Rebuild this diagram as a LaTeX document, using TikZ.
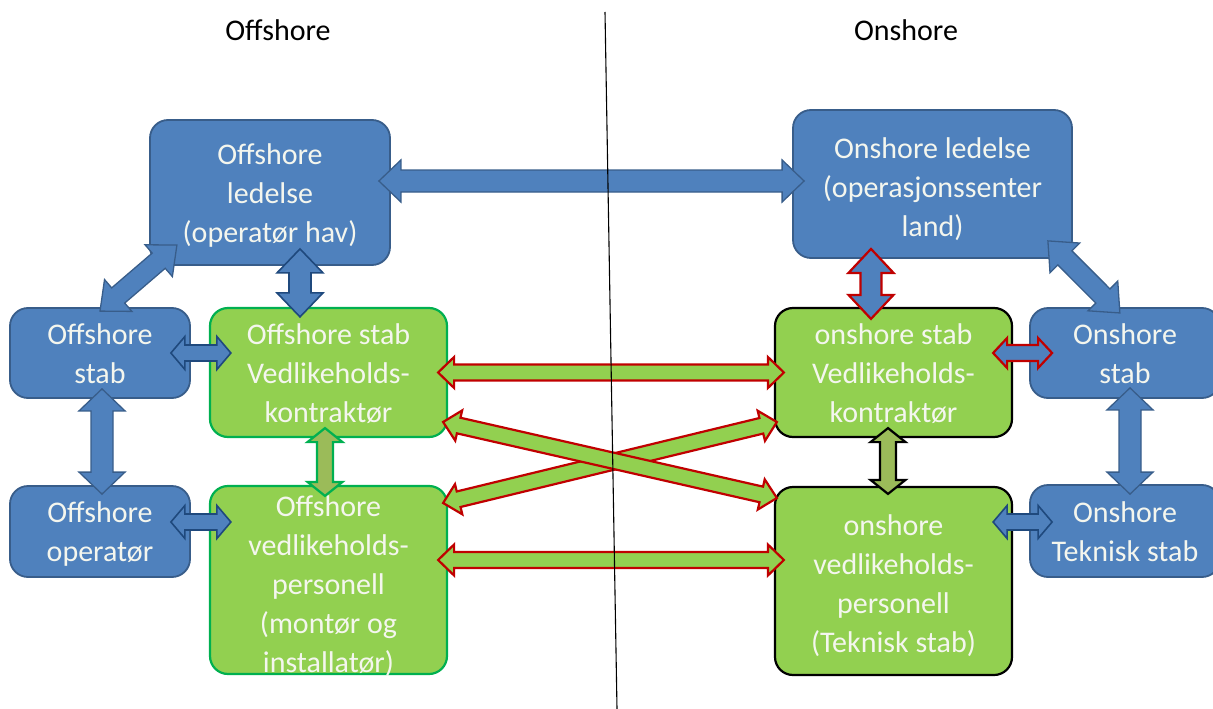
\documentclass[tikz,border=0pt]{standalone}
\usepackage{fontspec}
\setmainfont{Carlito}
\usetikzlibrary{calc}
\definecolor{bfill}{HTML}{4F81BD}
\definecolor{bline}{HTML}{385D8A}
\definecolor{bdark}{HTML}{1F497D}
\definecolor{gfill}{HTML}{92D050}
\definecolor{gline}{HTML}{00B050}
\definecolor{rline}{HTML}{C00000}
\definecolor{ofill}{HTML}{9BBB59}
\definecolor{btext}{HTML}{F4F6EE}
% box text, lowered by #1 pt inside its box
\newcommand{\bt}[2][3]{\raisebox{-#1pt}[\height][\depth]{\begin{tabular}{@{}c@{}}#2\end{tabular}}}
% block double arrow: #1 style, #2 from, #3 to, #4 shaft half width, #5 head half width, #6 head length
\newcommand{\blockarr}[6]{%
 \path[#1] let \p1=(#2), \p2=(#3), \n1={atan2(\y2-\y1,\x2-\x1)}, \n2={veclen(\x2-\x1,\y2-\y1)} in
 [shift={(\p1)}, rotate=\n1] (0pt,0pt) -- (#6pt,#5pt) -- (#6pt,#4pt) -- ({(\n2-#6)*1pt},#4pt) -- ({(\n2-#6)*1pt},#5pt) -- ({\n2*1pt},0pt) -- ({(\n2-#6)*1pt},-#5pt) -- ({(\n2-#6)*1pt},-#4pt) -- (#6pt,-#4pt) -- (#6pt,-#5pt) -- cycle;}
\tikzset{
 boxbase/.style={rounded corners=18pt, text=btext, font=\fontsize{30}{39}\selectfont, inner sep=0pt},
 bbox/.style={boxbase, draw=bline, line width=1.8pt, fill=bfill},
 gbox/.style={boxbase, draw=gline, line width=2.2pt, fill=gfill},
 gboxk/.style={boxbase, draw=black, line width=2.2pt, fill=gfill},
 title/.style={font=\fontsize{30}{35}\selectfont, text=black},
 barr/.style={fill=bfill, draw=bline, line width=1.3pt, line join=miter},
 barrd/.style={fill=bfill, draw=bdark, line width=1.6pt, line join=miter},
 garr/.style={fill=gfill, draw=rline, line width=2.2pt, line join=miter},
 brarr/.style={fill=bfill, draw=rline, line width=2.2pt, line join=miter},
 oarr/.style={fill=ofill, draw=gline, line width=2.2pt, line join=miter},
 oarrk/.style={fill=ofill, draw=black, line width=2.2pt, line join=miter},
 divider/.style={draw=black, line width=1.1pt}
}
\begin{document}
\begin{tikzpicture}[x=1pt,y=-1pt]
\useasboundingbox (0,0) rectangle (1213,709);
% titles
\node[title] (toff) at (278,30) {Offshore};
\node[title] (ton) at (906,30) {Onshore};
% boxes
\node[bbox, minimum width=240pt, minimum height=145pt] (offled) at (270,192.5) {\bt{Offshore\\ledelse\\(operatør hav)}};
\node[bbox, minimum width=279pt, minimum height=148pt] (onled) at (932.5,184) {\bt[6]{Onshore ledelse\\(operasjonssenter\\land)}};
\node[bbox, minimum width=180pt, minimum height=90pt] (offstab) at (100,353) {\bt{Offshore\\stab}};
\node[gbox, minimum width=237pt, minimum height=129pt] (offgstab) at (328.5,372.5) {\bt{Offshore stab\\Vedlikeholds-\\kontraktør}};
\node[bbox, minimum width=180pt, minimum height=91pt] (offop) at (100,531.5) {\bt{Offshore\\operatør}};
\node[gbox, minimum width=237pt, minimum height=188pt] (offvp) at (328.5,580) {\raisebox{-12.5pt}[90pt][90pt]{\begin{tabular}{@{}c@{}}Offshore\\vedlikeholds-\\personell\\(montør og\\installatør)\end{tabular}}};
\node[gboxk, minimum width=237pt, minimum height=129pt] (ongstab) at (893.5,372.5) {\bt{onshore stab\\Vedlikeholds-\\kontraktør}};
\node[bbox, minimum width=190pt, minimum height=90pt] (onstab) at (1125,353) {\bt{Onshore\\stab}};
\node[gboxk, minimum width=237pt, minimum height=188pt] (onvp) at (893.5,581) {\bt[5]{onshore\\vedlikeholds-\\personell\\(Teknisk stab)}};
\node[bbox, minimum width=190pt, minimum height=92pt] (ontek) at (1125,531) {\bt{Onshore\\Teknisk stab}};
% arrows
\blockarr{barr}{$(offled.east)+(-12,-11.5)$}{$(onled.west)+(12,-3)$}{11}{21}{22}
\blockarr{barr}{$(offstab.north)+(0,4)$}{$(offled.south west)+(28,-21)$}{10}{21}{24}
\blockarr{barrd}{$(offled.south)+(30,-17)$}{$(offgstab.north)+(-28.5,10)$}{11}{23}{24}
\blockarr{barrd}{$(offstab.east)+(-20,0)$}{$(offgstab.west)+(22,-19.5)$}{8}{16.5}{14}
\blockarr{barr}{$(offstab.south)+(2,-10)$}{$(offop.north)+(2,9)$}{11}{23}{22}
\blockarr{barrd}{$(offop.east)+(-20,-9.5)$}{$(offvp.west)+(22,-58)$}{8}{16.5}{14}
\blockarr{oarr}{$(offgstab.south)+(-3.5,-10)$}{$(offvp.north)+(-3.5,11)$}{8}{17.5}{14}
\blockarr{garr}{$(offgstab.east)+(-10,0)$}{$(ongstab.west)+(10,0)$}{8}{15.5}{16}
\blockarr{garr}{$(offvp.east)+(-5,-77)$}{$(ongstab.west)+(3,49.5)$}{8}{15.5}{16}
\blockarr{garr}{$(offgstab.east)+(-5,49.5)$}{$(onvp.west)+(3,-83)$}{8}{15.5}{16}
\blockarr{garr}{$(offvp.east)+(-10,-20)$}{$(onvp.west)+(10,-21)$}{8}{15.5}{16}
\blockarr{brarr}{$(onled.south)+(-61.5,-10)$}{$(ongstab.north)+(-22.5,12)$}{10.5}{22.5}{24}
\blockarr{brarr}{$(ongstab.east)+(-20,-19.5)$}{$(onstab.west)+(23,0)$}{8}{15}{14}
\blockarr{barr}{$(onled.south east)+(-25,-18)$}{$(onstab.north)+(-5,6)$}{10}{21}{24}
\blockarr{barr}{$(onstab.south)+(5,-11)$}{$(ontek.north)+(5,10)$}{11}{23}{22}
\blockarr{oarrk}{$(ongstab.south)+(-5.5,-10)$}{$(onvp.north)+(-5.5,8)$}{8}{17.5}{14}
\blockarr{barrd}{$(onvp.east)+(-20,-59)$}{$(ontek.west)+(23,-9)$}{8}{16.5}{14}
% divider
\draw[divider] (605,12) -- (617,709);
\end{tikzpicture}
\end{document}
